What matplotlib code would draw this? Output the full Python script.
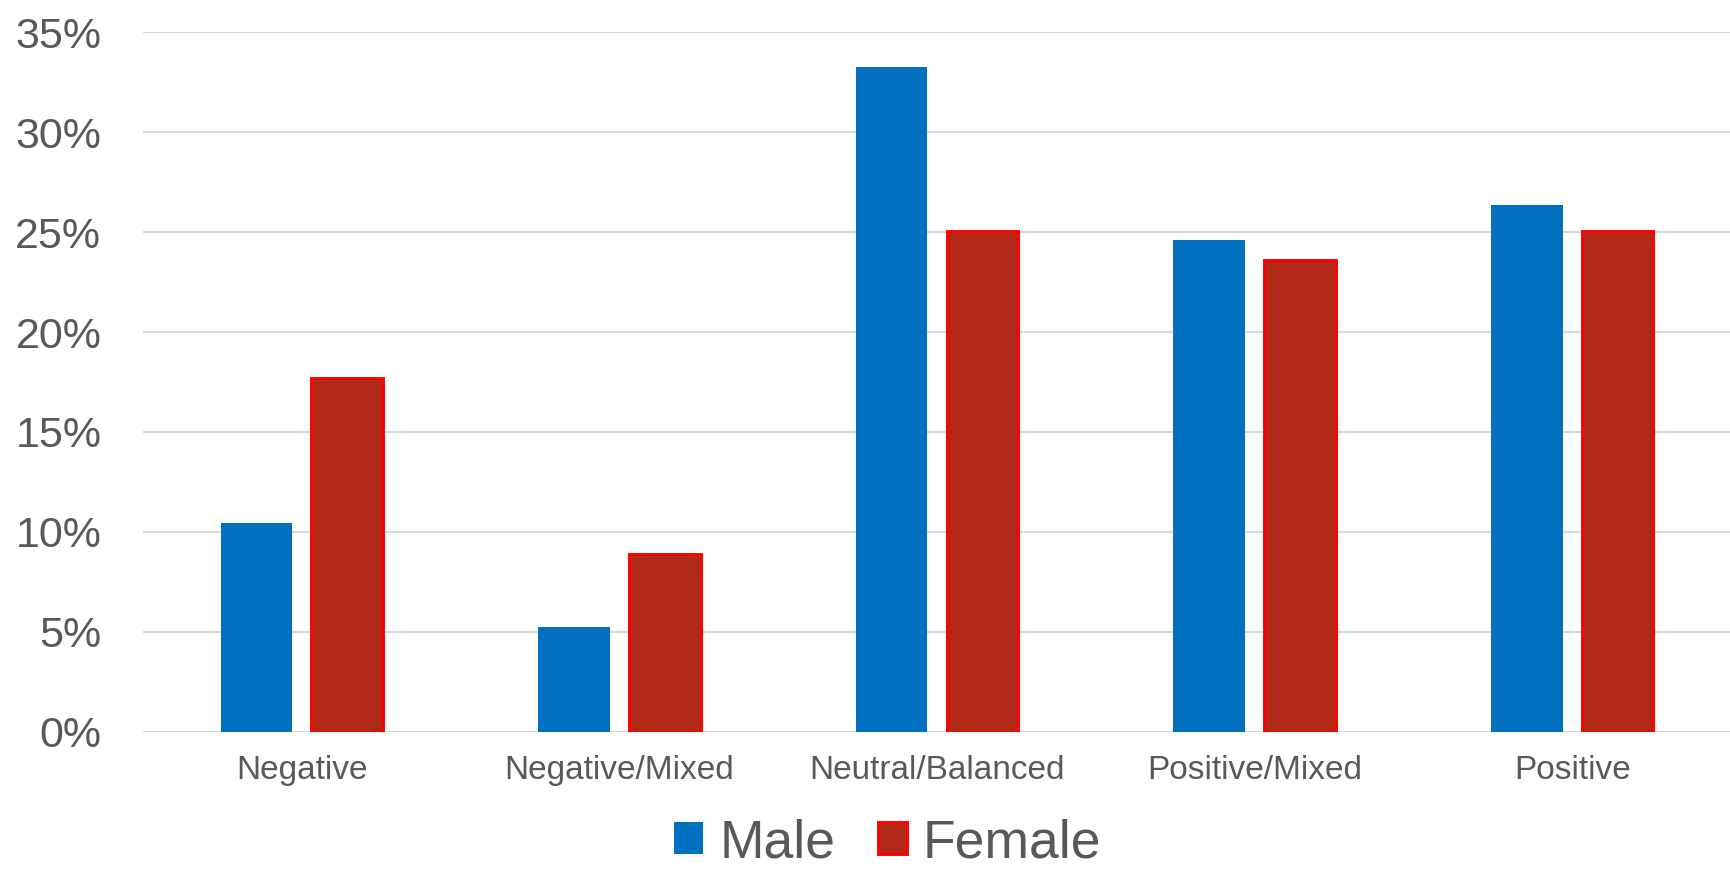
import matplotlib.pyplot as plt
import numpy as np

categories = ['Negative', 'Negative/Mixed', 'Neutral/Balanced', 'Positive/Mixed', 'Positive']
male = [10.45, 5.24, 33.27, 24.61, 26.36]
female = [17.69, 8.89, 25.05, 23.59, 25.05]
y_ticks = [0, 5, 10, 15, 20, 25, 30, 35]

plt.rcParams['font.family'] = ['Liberation Sans', 'DejaVu Sans']
text_color = '#595959'

fig = plt.figure(figsize=(17.31, 8.69), dpi=100)
ax = fig.add_axes([143 / 1731, 1 - 731.7 / 869, 1 - 143 / 1731, (731.7 - 32.3) / 869])

x = np.arange(len(categories))
width = 0.225
offset = 0.143

ax.bar(x - offset, male, width, color='#0070C0', label='Male', zorder=2)
ax.bar(x + offset, female, width, color='#B22A17', edgecolor='#FF0000',
       linewidth=2.1, label='Female', zorder=2)

ax.set_xlim(-0.5, len(categories) - 0.5)
ax.set_ylim(0, 35)
ax.set_yticks(y_ticks)
ax.set_yticklabels(['%d%%' % v for v in y_ticks])
ax.set_xticks(x)
ax.set_xticklabels(categories)

ax.tick_params(axis='y', length=0, pad=30, labelsize=31, labelcolor=text_color)
ax.tick_params(axis='x', length=0, pad=17, labelsize=24, labelcolor=text_color)

ax.grid(True, axis='y', color='#D9D9D9', linewidth=1.5, zorder=0)
ax.set_axisbelow(True)
for side in ['top', 'right', 'left', 'bottom']:
    ax.spines[side].set_visible(False)

# legend sits low, like the Excel original
fig.legend(loc='center', bbox_to_anchor=(0.513, 1 - 843 / 869), ncol=2,
           frameon=False, fontsize=38.5, labelcolor=text_color,
           handlelength=0.54, handleheight=0.54, handletextpad=0.3,
           columnspacing=0.8, borderpad=0)

plt.savefig('out.png', dpi=100)
